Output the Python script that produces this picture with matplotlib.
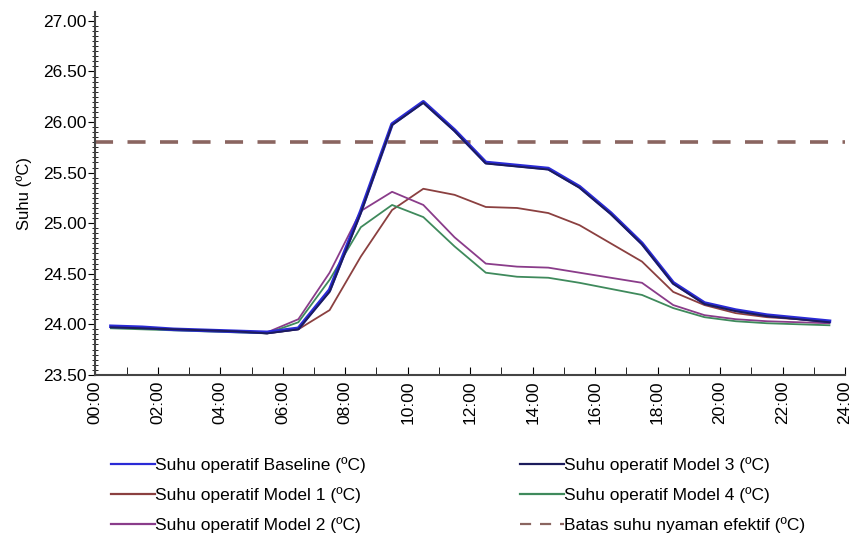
import matplotlib.pyplot as plt
import matplotlib.ticker as mticker
import numpy as np

plt.rcParams['font.family'] = ['Liberation Sans', 'DejaVu Sans']

# Jam pengukuran (tengah tiap jam)
jam = np.arange(0.5, 24, 1.0)

suhu_baseline = [23.98, 23.97, 23.95, 23.94, 23.93, 23.92, 23.96, 24.34, 25.12, 25.98,
                 26.20, 25.92, 25.60, 25.57, 25.54, 25.36, 25.10, 24.80, 24.41, 24.21,
                 24.14, 24.09, 24.06, 24.03]
suhu_model1 = [23.97, 23.96, 23.95, 23.94, 23.93, 23.91, 23.95, 24.14, 24.67, 25.13,
               25.34, 25.28, 25.16, 25.15, 25.10, 24.98, 24.80, 24.62, 24.32, 24.19,
               24.11, 24.07, 24.05, 24.02]
suhu_model2 = [23.97, 23.96, 23.95, 23.94, 23.93, 23.92, 24.05, 24.51, 25.12, 25.31,
               25.18, 24.86, 24.60, 24.57, 24.56, 24.51, 24.46, 24.41, 24.19, 24.09,
               24.05, 24.03, 24.02, 24.01]
suhu_model3 = [23.97, 23.96, 23.95, 23.94, 23.93, 23.91, 23.95, 24.32, 25.10, 25.97,
               26.19, 25.91, 25.59, 25.56, 25.53, 25.35, 25.09, 24.79, 24.40, 24.20,
               24.13, 24.08, 24.05, 24.02]
suhu_model4 = [23.96, 23.95, 23.94, 23.93, 23.92, 23.91, 24.02, 24.44, 24.96, 25.18,
               25.06, 24.77, 24.51, 24.47, 24.46, 24.41, 24.35, 24.29, 24.16, 24.07,
               24.03, 24.01, 24.00, 23.99]
batas_nyaman = 25.8

label_x = ['00:00', '02:00', '04:00', '06:00', '08:00', '10:00', '12:00',
           '14:00', '16:00', '18:00', '20:00', '22:00', '24:00']

fig = plt.figure(figsize=(8.51, 5.37), dpi=100)
ax = fig.add_axes([0.112, 0.302, 0.881, 0.676])

l_base, = ax.plot(jam, suhu_baseline, color='#2a2ad6', lw=2.6, zorder=4)
l_m1, = ax.plot(jam, suhu_model1, color='#8b4040', lw=1.3, zorder=3)
l_m2, = ax.plot(jam, suhu_model2, color='#8a3c8a', lw=1.3, zorder=3)
l_m3, = ax.plot(jam, suhu_model3, color='#1c1c5c', lw=1.4, zorder=5)
l_m4, = ax.plot(jam, suhu_model4, color='#3f8a5c', lw=1.3, zorder=3)
l_batas = ax.axhline(batas_nyaman, color='#8a6560', lw=2.6, ls=(0, (5, 4)), zorder=2)

ax.set_xlim(0, 24)
ax.set_ylim(23.5, 27.09)
ax.set_xticks(np.arange(0, 25, 2))
ax.set_xticklabels(label_x, rotation=90, fontsize=12.5)
ax.xaxis.set_minor_locator(mticker.MultipleLocator(1))
ax.set_yticks(np.arange(23.5, 27.01, 0.5))
ax.yaxis.set_major_formatter(mticker.FormatStrFormatter('%.2f'))
ax.yaxis.set_minor_locator(mticker.MultipleLocator(0.05))
ax.tick_params(axis='y', which='major', direction='out', length=5, labelsize=12.5, pad=1)
ax.tick_params(axis='y', which='minor', direction='inout', length=4)
ax.tick_params(axis='x', which='both', direction='in', length=6, pad=4)
ax.set_ylabel('Suhu (ºC)', fontsize=12, labelpad=8)

for s in ['top', 'right']:
    ax.spines[s].set_visible(False)
for s in ['left', 'bottom']:
    ax.spines[s].set_color('#444444')
    ax.spines[s].set_linewidth(1.5)

handles = [l_base, l_m1, l_m2, l_m3, l_m4, l_batas]
labels = ['Suhu operatif Baseline (ºC)', 'Suhu operatif Model 1 (ºC)',
          'Suhu operatif Model 2 (ºC)', 'Suhu operatif Model 3 (ºC)',
          'Suhu operatif Model 4 (ºC)', 'Batas suhu nyaman efektif (ºC)']
leg = fig.legend(handles, labels, ncol=2, loc='upper left', bbox_to_anchor=(0.131, 0.148),
                 frameon=False, fontsize=12.5, handlelength=2.5, handletextpad=0.0,
                 columnspacing=8.9, labelspacing=0.8, borderaxespad=0, borderpad=0)
for h in leg.legend_handles:
    h.set_linewidth(1.6)

fig.savefig('out.png', dpi=100)
